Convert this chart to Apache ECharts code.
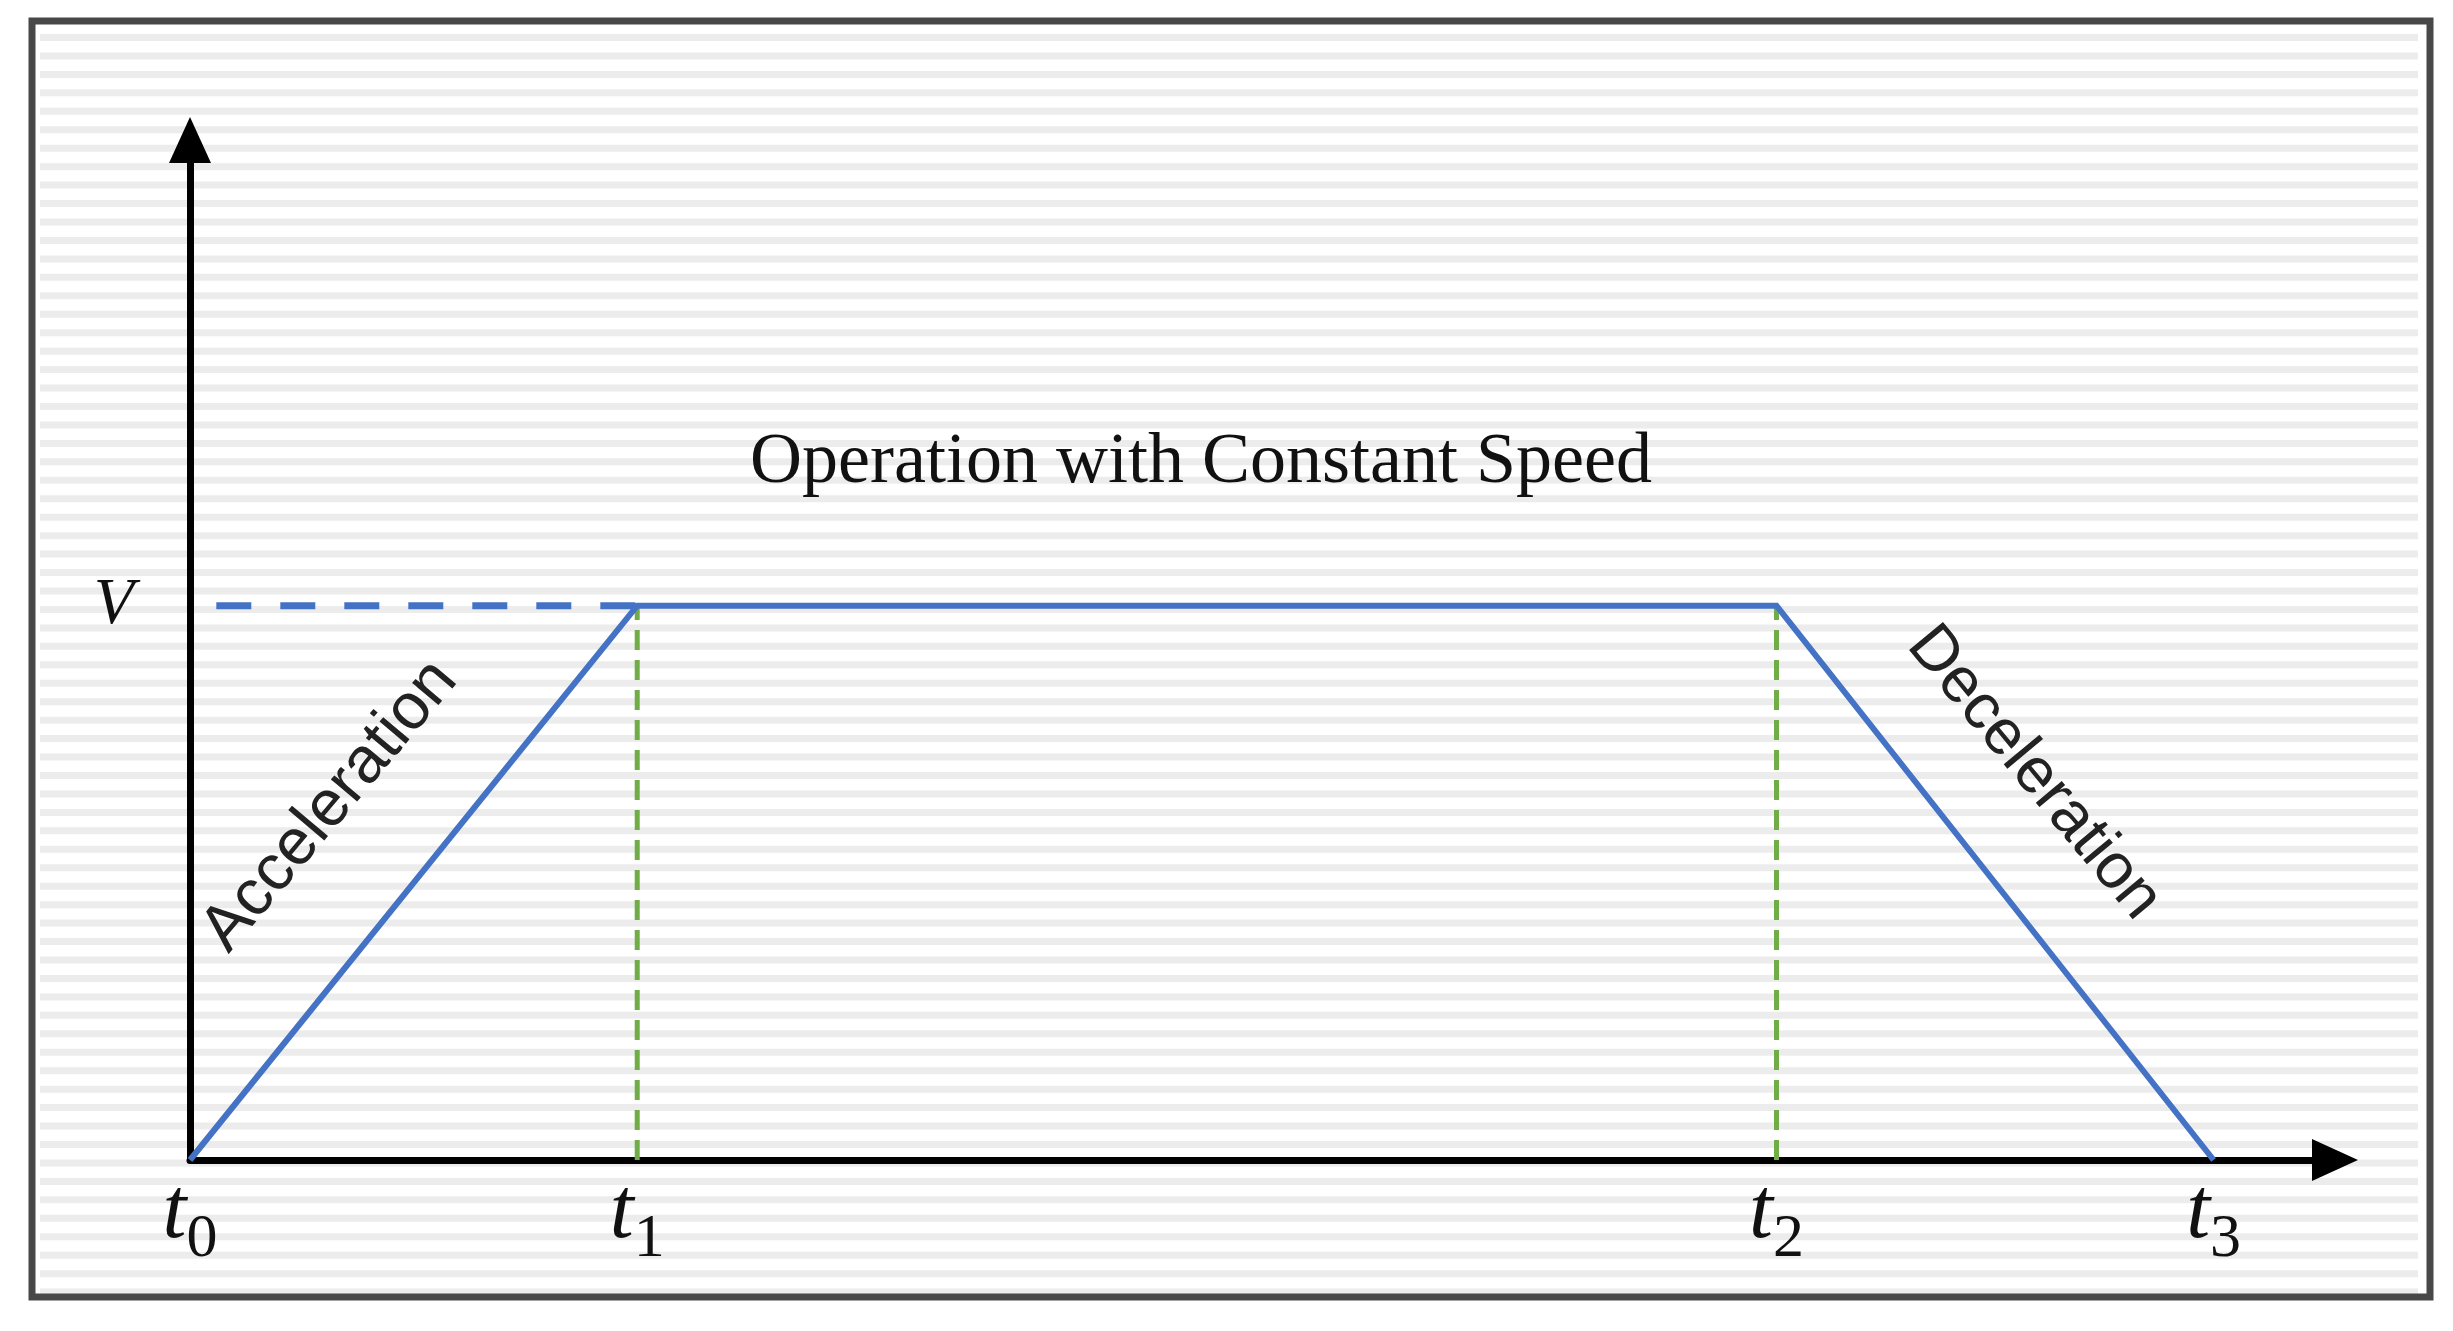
<!DOCTYPE html>
<html>
<head>
<meta charset="utf-8">
<style>
  html, body { margin: 0; padding: 0; background: #ffffff; }
  #chart { width: 2453px; height: 1331px; }
</style>
<script src="https://cdn.jsdelivr.net/npm/echarts@6/dist/echarts.min.js"></script>
</head>
<body>
<div id="chart"></div>
<script>
// ---- data (arbitrary time units, speed normalised to V = 1) ----
const timePoints = [0, 2.21, 7.84, 10];          // t0, t1, t2, t3
const timeSubscripts = ['0', '1', '2', '3'];
const profileSpeeds = [0, 1, 1, 0];              // speed at t0..t3
const speedLevel = 1;                            // V
const speedLabel = 'V';
const refLineStart = 0.13;                       // start of dashed V reference line
const xMax = 10.6;
const yMax = 1.84;
const phaseTitle = 'Operation with Constant Speed';
const accelLabel = 'Acceleration';
const decelLabel = 'Deceleration';

const chart = echarts.init(document.getElementById('chart'));

const profileData = timePoints.map((t, i) => [t, profileSpeeds[i]]);
const refLine = [[refLineStart, speedLevel], [timePoints[1], speedLevel]];
const drop1 = [[timePoints[1], 0], [timePoints[1], speedLevel]];
const drop2 = [[timePoints[2], 0], [timePoints[2], speedLevel]];

const labelMap = {};
timePoints.forEach((t, i) => { labelMap[t] = timeSubscripts[i]; });

// background stripes + frame (decoration)
const bgElems = [];
for (let y = 34; y < 1292; y += 18.45) {
  bgElems.push({
    type: 'rect', z: -100, silent: true,
    shape: { x: 40, y: y, width: 2378, height: 7 },
    style: { fill: '#ececec' }
  });
}
bgElems.push({
  type: 'rect', z: -90, silent: true,
  shape: { x: 32, y: 21, width: 2398, height: 1276 },
  style: { fill: 'none', stroke: '#484848', lineWidth: 7 }
});

const textElems = [
  {
    type: 'text', z: 100, x: 1201, y: 463,
    style: {
      text: phaseTitle, font: '72px "Liberation Serif"', fill: '#111111',
      textAlign: 'center', textVerticalAlign: 'middle'
    }
  },
  {
    type: 'text', z: 100, x: 330, y: 806, rotation: 0.871,
    style: {
      text: accelLabel, font: '65px "Liberation Sans"', fill: '#222222',
      textAlign: 'center', textVerticalAlign: 'middle'
    }
  },
  {
    type: 'text', z: 100, x: 2034, y: 773, rotation: -0.878,
    style: {
      text: decelLabel, font: '64px "Liberation Sans"', fill: '#222222',
      textAlign: 'center', textVerticalAlign: 'middle'
    }
  }
];

const option = {
  backgroundColor: '#ffffff',
  animation: false,
  graphic: { elements: bgElems.concat(textElems) },
  grid: { left: 190, right: 118, top: 140, bottom: 171, containLabel: false },
  xAxis: {
    type: 'value', min: 0, max: xMax,
    axisLine: {
      show: true, onZero: false,
      symbol: ['none', 'triangle'], symbolSize: [42, 46],
      lineStyle: { color: '#000000', width: 7 }
    },
    axisTick: { show: false },
    splitLine: { show: false },
    axisLabel: {
      customValues: timePoints,
      margin: 11,
      formatter: (v) => '{t|t}{s|' + labelMap[v] + '}',
      rich: {
        t: { fontFamily: 'Liberation Serif', fontStyle: 'italic', fontSize: 86, lineHeight: 86, verticalAlign: 'top', color: '#111111' },
        s: { fontFamily: 'Liberation Serif', fontSize: 62, lineHeight: 62, padding: [38, 0, 0, 0], verticalAlign: 'top', color: '#111111' }
      }
    }
  },
  yAxis: {
    type: 'value', min: 0, max: yMax,
    axisLine: {
      show: true, onZero: false,
      symbol: ['none', 'triangle'], symbolSize: [42, 46],
      lineStyle: { color: '#000000', width: 7 }
    },
    axisTick: { show: false },
    splitLine: { show: false },
    axisLabel: {
      customValues: [speedLevel],
      margin: 56,
      formatter: () => speedLabel,
      fontFamily: 'Liberation Serif', fontStyle: 'italic', fontSize: 66, color: '#111111'
    }
  },
  series: [
    {
      type: 'line', data: drop1, symbol: 'none', z: 3,
      lineStyle: { color: '#70AD47', width: 5, type: [20, 10] }
    },
    {
      type: 'line', data: drop2, symbol: 'none', z: 3,
      lineStyle: { color: '#70AD47', width: 5, type: [20, 10] }
    },
    {
      type: 'line', data: refLine, symbol: 'none', z: 4,
      lineStyle: { color: '#4472C4', width: 7, type: [35, 29] }
    },
    {
      type: 'line', data: profileData, symbol: 'none', z: 5,
      lineStyle: { color: '#4472C4', width: 6, join: 'miter' }
    }
  ]
};
chart.setOption(option);
</script>
</body>
</html>
